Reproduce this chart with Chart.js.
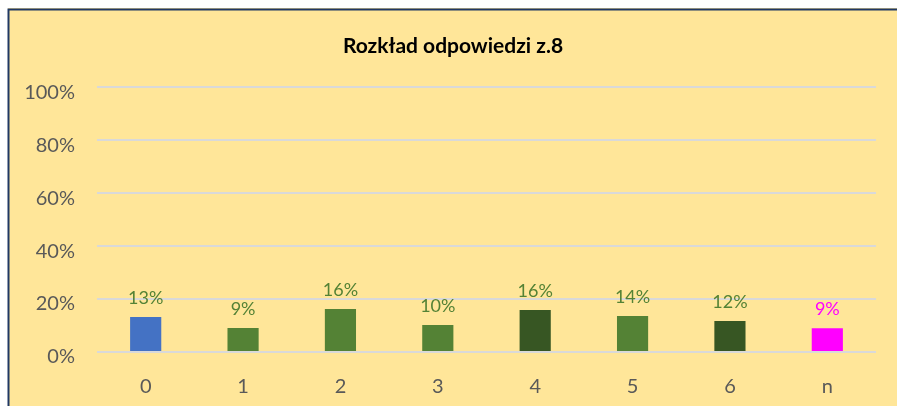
<!DOCTYPE html>
<html>
<head>
<meta charset="utf-8">
<script src="https://cdn.jsdelivr.net/npm/chart.js@4.4.1/dist/chart.umd.min.js"></script>
<style>
  html, body { margin: 0; padding: 0; background: #ffffff; }
  #c { display: block; }
</style>
</head>
<body>
<canvas id="c" width="897" height="406"></canvas>
<script>
const categories = ['0', '1', '2', '3', '4', '5', '6', 'n'];
const values = [13.2, 9.1, 16.2, 10.2, 15.9, 13.6, 11.7, 9.0];
const valueLabels = ['13%', '9%', '16%', '10%', '16%', '14%', '12%', '9%'];
const barColors = ['#4472C4', '#548235', '#548235', '#548235', '#375623', '#548235', '#375623', '#FF00FF'];
const labelColors = ['#548235', '#548235', '#548235', '#548235', '#548235', '#548235', '#548235', '#FF00FF'];
const yTicks = [0, 20, 40, 60, 80, 100];
const titleText = 'Rozkład odpowiedzi z.8';

const frame = {
  id: 'frame',
  beforeDraw(chart) {
    const ctx = chart.ctx;
    ctx.save();
    ctx.fillStyle = '#ffffff';
    ctx.fillRect(0, 0, chart.width, chart.height);
    ctx.fillStyle = '#FFE699';
    ctx.fillRect(8, 8, chart.width - 8, chart.height - 8);
    ctx.strokeStyle = '#203864';
    ctx.lineWidth = 2;
    ctx.beginPath();
    ctx.moveTo(8.5, chart.height);
    ctx.lineTo(8.5, 9.5);
    ctx.lineTo(chart.width, 9.5);
    ctx.stroke();
    ctx.restore();
  }
};

const barLabels = {
  id: 'barLabels',
  afterDatasetsDraw(chart) {
    const ctx = chart.ctx;
    const meta = chart.getDatasetMeta(0);
    ctx.save();
    ctx.font = '18px Lato';
    ctx.textAlign = 'center';
    ctx.textBaseline = 'alphabetic';
    meta.data.forEach((el, i) => {
      ctx.fillStyle = labelColors[i];
      ctx.fillText(valueLabels[i], el.x, el.y - 13);
    });
    ctx.restore();
  }
};

new Chart(document.getElementById('c'), {
  type: 'bar',
  data: {
    labels: categories,
    datasets: [{
      data: values,
      backgroundColor: barColors,
      borderWidth: 0,
      barPercentage: 0.32,
      categoryPercentage: 1
    }]
  },
  options: {
    responsive: false,
    animation: false,
    devicePixelRatio: 1,
    layout: { padding: { left: 18, right: 9, top: 0, bottom: 0 } },
    plugins: {
      legend: { display: false },
      tooltip: { enabled: false },
      title: {
        display: true,
        text: titleText,
        color: '#000000',
        font: { family: 'Lato', size: 21, weight: 'bold', lineHeight: 1.2 },
        padding: { top: 34, bottom: 28 }
      }
    },
    scales: {
      x: {
        grid: { display: false, drawTicks: false },
        border: { display: false },
        ticks: {
          color: '#595959',
          font: { family: 'Lato', size: 20 },
          padding: 23
        },
        afterFit(scale) { scale.height = 54; }
      },
      y: {
        position: 'left',
        min: 0,
        max: 100,
        afterBuildTicks(scale) { scale.ticks = yTicks.map(v => ({ value: v })); },
        grid: { color: '#D9D9D9', lineWidth: 2, drawTicks: false },
        border: { display: false },
        ticks: {
          color: '#595959',
          font: { family: 'Lato', size: 20 },
          padding: 22,
          labelOffset: 5,
          callback: v => v + '%'
        },
        afterFit(scale) { scale.width = 79; }
      },
      yRight: {
        type: 'linear',
        position: 'right',
        min: 0,
        max: 100,
        grid: { display: false, drawTicks: false },
        border: { display: false },
        ticks: { display: false },
        afterFit(scale) { scale.width = 12; }
      }
    }
  },
  plugins: [frame, barLabels]
});
</script>
</body>
</html>
